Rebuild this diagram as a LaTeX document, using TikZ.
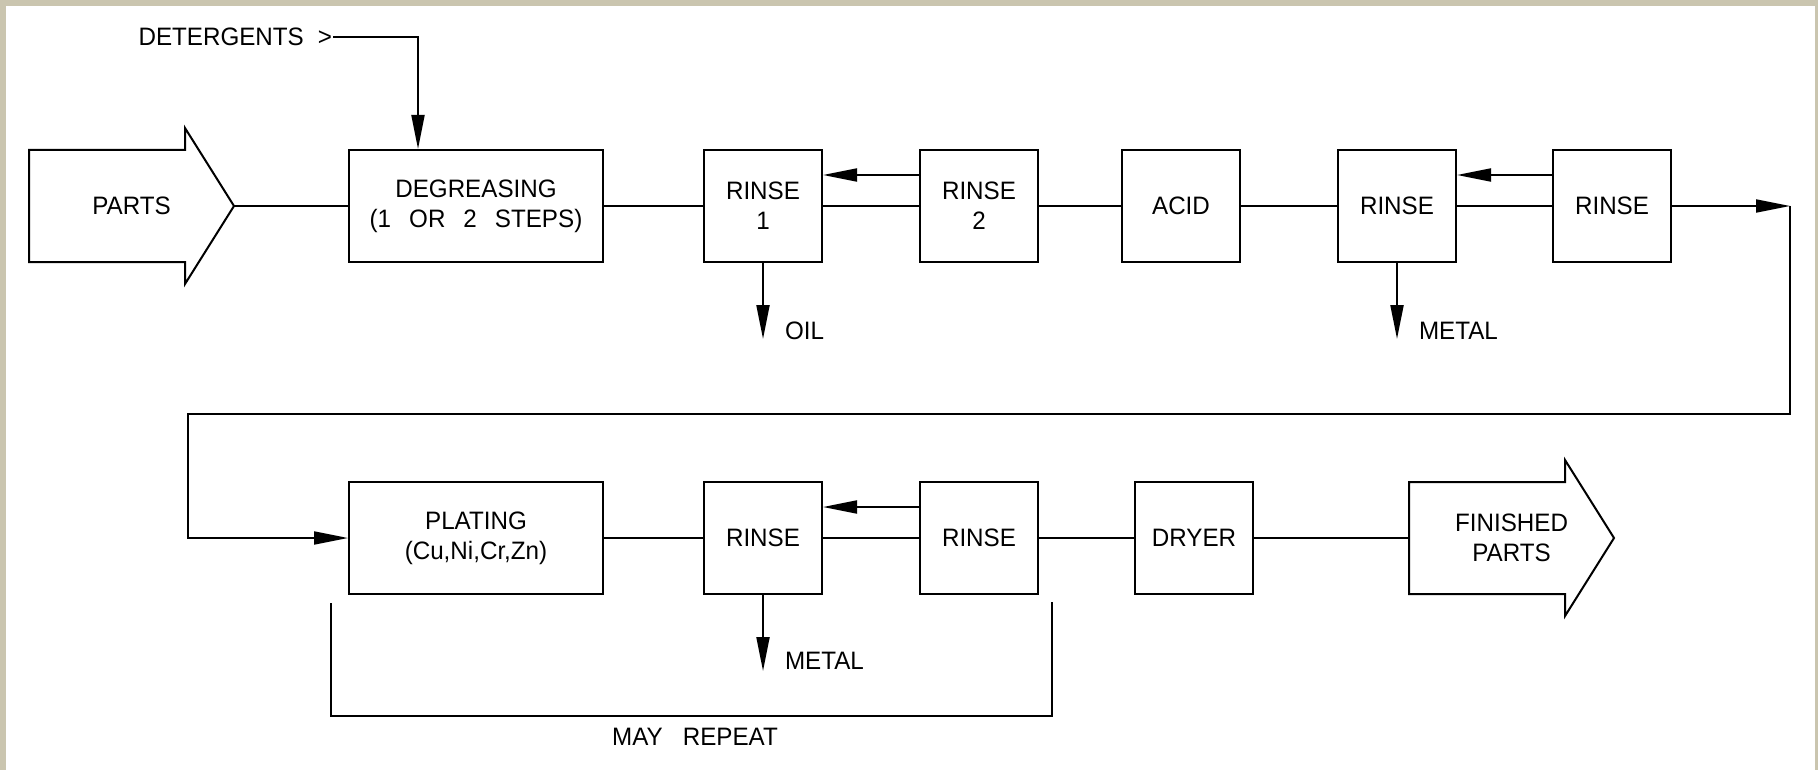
\documentclass[tikz,border=0pt]{standalone}
\usepackage{fontspec}
\setmainfont[FakeStretch=0.96]{Liberation Sans}
\usetikzlibrary{arrows.meta,positioning}
\definecolor{framebeige}{RGB}{202,197,175}
\begin{document}
\begin{tikzpicture}[x=0.5pt, y=-0.5pt, line width=1pt, >={Triangle[length=17pt,width=6.5pt]},
  every node/.style={font=\fontsize{12.6pt}{15pt}\selectfont, align=center},
  stage/.style={draw, minimum width=59pt, minimum height=56pt, inner sep=2pt},
  widestage/.style={stage, minimum width=127pt},
  bigarrow/.style={minimum width=102.5pt, minimum height=56pt, inner sep=0pt, outer sep=0pt},
  tag/.style={inner sep=0pt}]
\fill[framebeige] (0,0) rectangle (1818,770);
\fill[white] (6,6) rectangle (1815,770);
\useasboundingbox (0,0) rectangle (1818,770);

\node[bigarrow] (parts) at (131.5,206) {PARTS};
\node[widestage, right=57pt of parts] (degr) {DEGREASING\\(1\hspace{9pt}OR\hspace{9pt}2\hspace{9pt}STEPS)};
\node[stage, right=49.5pt of degr] (rinseA) {RINSE\\1};
\node[stage, right=48pt of rinseA] (rinseB) {RINSE\\2};
\node[stage, right=41pt of rinseB] (acid) {ACID};
\node[stage, right=48pt of acid] (rinseC) {RINSE};
\node[stage, right=47.5pt of rinseC] (rinseD) {RINSE};

\node[widestage, below=109pt of degr] (plat) {PLATING\\(Cu,Ni,Cr,Zn)};
\node[stage, right=49.5pt of plat] (rinseE) {RINSE};
\node[stage, right=48pt of rinseE] (rinseF) {RINSE};
\node[stage, right=47.5pt of rinseF] (dryer) {DRYER};
\node[bigarrow, right=77.5pt of dryer] (fin) {FINISHED\\PARTS};

\foreach \n in {parts,fin}
  \draw (\n.south west) -- (\n.north west) -- ([xshift=-24.5pt]\n.north east)
    -- ([xshift=-24.5pt,yshift=11pt]\n.north east) -- (\n.east)
    -- ([xshift=-24.5pt,yshift=-11pt]\n.south east) -- ([xshift=-24.5pt]\n.south east) -- cycle;

\node[tag, anchor=east] (det) at (333,37) {DETERGENTS\hspace{7pt}>};
\draw[->] (det.east) -| ([xshift=35pt]degr.north west);

\foreach \a/\b in {parts/degr, degr/rinseA, rinseA/rinseB, rinseB/acid, acid/rinseC, rinseC/rinseD,
  plat/rinseE, rinseE/rinseF, rinseF/dryer, dryer/fin}
  \draw (\a) -- (\b);
\foreach \a/\b in {rinseB/rinseA, rinseD/rinseC, rinseF/rinseE}
  \draw[->] ([yshift=15.5pt]\a.west) -- ([yshift=15.5pt]\b.east);

\coordinate[below=38pt of rinseA] (oilend);
\coordinate[below=38pt of rinseC] (metalend);
\coordinate[below=38pt of rinseE] (metalendB);
\draw[->] (rinseA.south) -- (oilend);
\draw[->] (rinseC.south) -- (metalend);
\draw[->] (rinseE.south) -- (metalendB);
\node[tag, anchor=west] (oil) at ([xshift=10.5pt,yshift=4pt]oilend) {OIL};
\node[tag, anchor=west] (metal) at ([xshift=10.5pt,yshift=4pt]metalend) {METAL};
\node[tag, anchor=west] (metalB) at ([xshift=10.5pt,yshift=5pt]metalendB) {METAL};

\coordinate (turn) at (1790,206);
\coordinate (back) at (188,414);
\draw[->] (rinseD) -- (turn);
\draw[->] (turn) |- (back) |- (plat.west);

\coordinate (repL) at (331,603);
\coordinate (repR) at (1052,602);
\draw (repL) -- ++(0,113) -| (repR);
\node[tag] (rep) at (695,737) {MAY\hspace{10pt}REPEAT};
\end{tikzpicture}
\end{document}
